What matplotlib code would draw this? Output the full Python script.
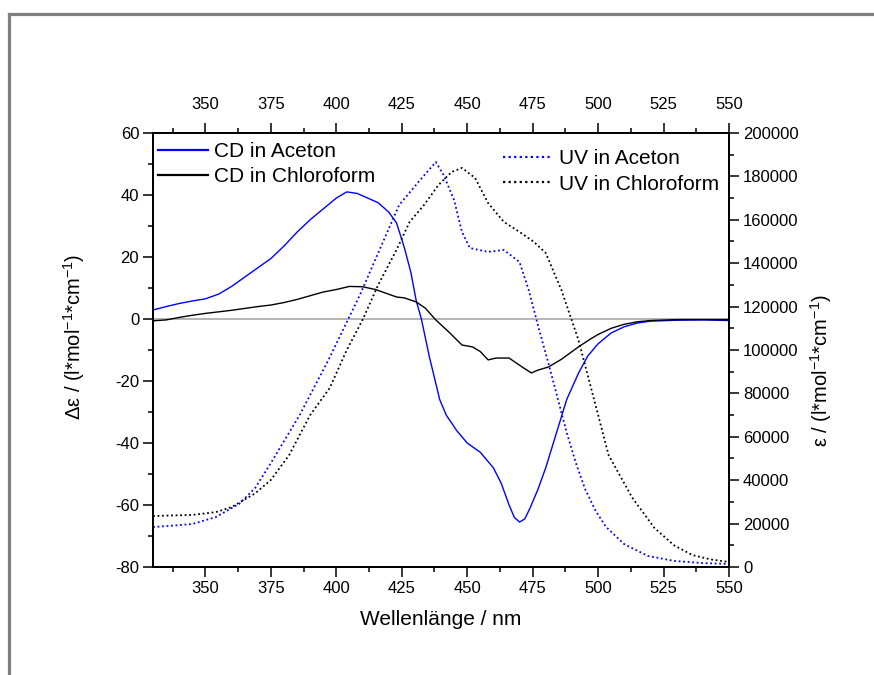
import matplotlib
matplotlib.use('Agg')
import matplotlib.pyplot as plt
from matplotlib.lines import Line2D
import numpy as np

plt.rcParams['font.family'] = ['Liberation Sans', 'DejaVu Sans']
plt.rcParams['mathtext.default'] = 'regular'
plt.rcParams['axes.unicode_minus'] = False

# CD-Spektren (linke Achse, Delta epsilon)
wl_cd_ace = [330, 335, 340, 345, 350, 355, 360, 365, 370, 375, 380, 385, 390, 395, 400, 404, 408,
             412, 416, 420, 423, 426, 428.5, 430.5, 432.5, 435.5, 439.5, 442, 446, 450, 455, 460,
             463, 466, 468, 470, 472, 474, 477, 480, 484, 488, 492.5, 496, 500, 505, 510, 515, 520,
             530, 540, 550]
cd_ace = [2.9, 4.0, 5.0, 5.8, 6.5, 8.0, 10.5, 13.5, 16.5, 19.5, 23.5, 28, 32, 35.5, 39, 41, 40.5,
          39, 37.5, 34.5, 31, 23, 15, 6, 0, -12, -26, -31, -36, -40, -43, -48,
          -53, -60, -64, -65.5, -64.5, -61, -55, -48, -37, -26, -17.5, -12, -8, -4.5, -2.5, -1.3, -0.7,
          -0.4, -0.3, -0.5]

wl_cd_chl = [330, 335, 340, 345, 350, 355, 360, 365, 370, 375, 380, 385, 390, 395, 400, 405, 410,
             415, 420, 423, 426, 430.5, 434, 438, 443, 448, 452, 455, 458, 461, 466, 471, 474.5,
             477, 481, 486, 492.5, 497, 500, 505, 510, 515, 520, 530, 540, 550]
cd_chl = [-0.6, -0.3, 0.5, 1.2, 1.8, 2.3, 2.8, 3.4, 4.0, 4.5, 5.3, 6.3, 7.5, 8.7, 9.5, 10.5, 10.4,
          9.5, 8.0, 7.1, 6.8, 5.5, 3.5, -0.3, -4.2, -8.4, -9.0, -10.5, -13.2, -12.6, -12.6, -15.5, -17.4,
          -16.5, -15.5, -13.0, -9.0, -6.5, -5.0, -3.0, -1.7, -0.9, -0.5, -0.2, -0.2, -0.2]

# UV-Spektren (rechte Achse, epsilon)
wl_uv_ace = [330, 340, 345, 354, 363, 369, 375, 386, 397, 409, 416.5, 424, 432, 438, 441, 445, 448,
             451, 458, 464, 470, 473.5, 477.5, 481, 484.5, 488, 491.5, 495, 499, 503, 510, 519, 529,
             540, 550]
uv_ace = [18400, 19300, 19800, 23000, 29200, 36400, 47900, 70000, 95400, 125300, 146100, 166800,
          178300, 186600, 180600, 169100, 154400, 147000, 145200, 146100, 140500, 127600, 109200,
          94000, 78000, 62000, 48000, 36000, 26000, 18500, 10500, 5100, 2800, 1800, 1400]

wl_uv_chl = [330, 345, 354, 360, 369, 375, 382, 390, 397.5, 404, 410, 416, 423, 428, 433.5, 439,
             444, 448, 453, 458, 464, 470, 475.5, 480, 486, 492.5, 498.5, 504, 513, 521.5, 529, 536,
             543, 550]
uv_chl = [23500, 24000, 25300, 27600, 33900, 40100, 51600, 70000, 82500, 100000, 113800, 130000,
          146100, 159000, 166800, 176000, 182000, 183900, 179300, 167700, 159000, 154400, 149800,
          144700, 127600, 104600, 77000, 51600, 32000, 18000, 10000, 5500, 3500, 2300]

fig = plt.figure(figsize=(8.74, 6.75), dpi=100)
ax = fig.add_axes([0.1751, 0.160, 0.659, 0.643])
ax2 = ax.twinx()

# grauer Rahmen
frame_kw = dict(transform=fig.transFigure, color='#808080', lw=2.3, solid_capstyle='projecting')
fig.add_artist(Line2D([8.5 / 874, 1.0], [1 - 14 / 675, 1 - 14 / 675], **frame_kw))
fig.add_artist(Line2D([8.5 / 874, 8.5 / 874], [0.0, 1 - 14 / 675], **frame_kw))

ax.axhline(0, color='#b4b4b4', lw=1.4, zorder=1)
l1, = ax.plot(wl_cd_ace, cd_ace, color='#0000ff', lw=1.0, label='CD in Aceton', zorder=3)
l2, = ax.plot(wl_cd_chl, cd_chl, color='black', lw=1.0, label='CD in Chloroform', zorder=3)
dots = (0, (1, 1.5))
l3, = ax2.plot(wl_uv_ace, uv_ace, color='#0000ff', lw=1.3, ls=dots, label='UV in Aceton')
l4, = ax2.plot(wl_uv_chl, uv_chl, color='black', lw=1.3, ls=dots, label='UV in Chloroform')

ax.set_xlim(330, 550)
ax.set_ylim(-80, 60)
ax2.set_ylim(0, 200000)

xt = np.arange(350, 551, 25)
ax.set_xticks(xt)
ax.set_xticks(np.arange(337.5, 551, 12.5), minor=True)
ax.set_yticks(np.arange(-80, 61, 20))
ax.set_yticks(np.arange(-70, 60, 20), minor=True)
ax2.set_yticks(np.arange(0, 200001, 20000))
ax2.set_yticks(np.arange(10000, 200000, 20000), minor=True)

top = ax.secondary_xaxis('top')
top.set_xticks(xt)
top.set_xticks(np.arange(337.5, 551, 12.5), minor=True)

for a in (ax, ax2, top):
    a.tick_params(which='major', direction='out', length=7, width=1.1, labelsize=12, pad=3)
    a.tick_params(which='minor', direction='out', length=3.5, width=1.1)
top.tick_params(which='major', pad=8)
for a in (ax, ax2):
    for s in a.spines.values():
        s.set_linewidth(1.4)
top.spines['top'].set_linewidth(1.4)

ax.set_xlabel('Wellenlänge / nm', fontsize=15, labelpad=10)
ax.set_ylabel('Δε / (l*mol$^{-1}$*cm$^{-1}$)', fontsize=14.5)
ax.yaxis.set_label_coords(-0.115, 0.53)
ax2.set_ylabel('ε / (l*mol$^{-1}$*cm$^{-1}$)', fontsize=14.5)
ax2.yaxis.set_label_coords(1.137, 0.452)

leg1 = ax.legend(handles=[l1, l2], loc='upper left', bbox_to_anchor=(0.009, 0.979), frameon=False,
                 fontsize=15, handlelength=2.4, handletextpad=0.3, labelspacing=0.3,
                 borderpad=0, borderaxespad=0)
leg2 = ax2.legend(handles=[l3, l4], loc='upper left', bbox_to_anchor=(0.608, 0.962), frameon=False,
                  fontsize=15, handlelength=2.4, handletextpad=0.3, labelspacing=0.3,
                  borderpad=0, borderaxespad=0)
for h in leg1.legend_handles:
    h.set_linewidth(1.6)
for h in leg2.legend_handles:
    h.set_linewidth(1.6)

fig.savefig('out.png', dpi=100)
